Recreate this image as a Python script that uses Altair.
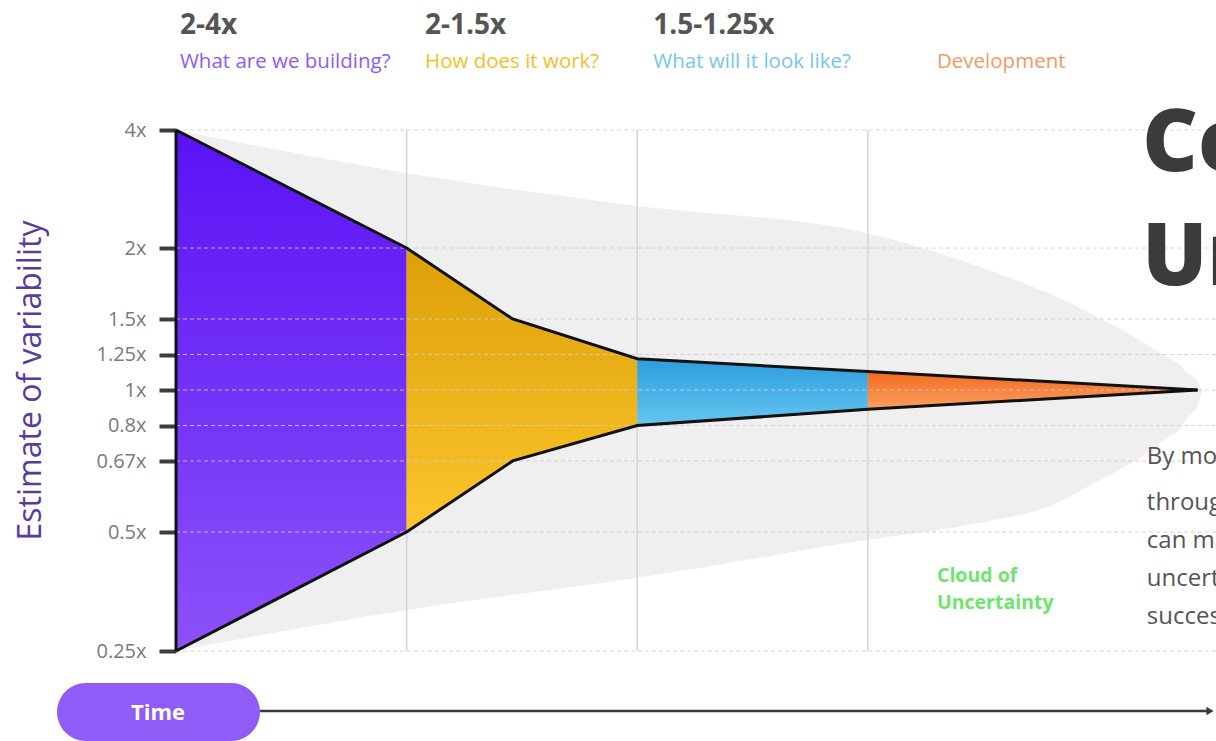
import altair as alt
import pandas as pd

# ---------------- data ----------------
tick_mult = [4, 2, 1.5, 1.25, 1, 0.8, 2 / 3, 0.5, 0.25]
tick_labels = ["4x", "2x", "1.5x", "1.25x", "1x", "0.8x", "0.67x", "0.5x", "0.25x"]

# cone of estimates (time in phase units, multiplier up / down)
cone_t = [0, 1, 1.46, 2, 3, 4.43]
cone_upper = [4, 2, 1.5, 1.22, 1.13, 1.0]
cone_lower = [0.25, 0.5, 0.667, 0.8, 0.88, 1.0]

phase_ranges = ["2-4x", "2-1.5x", "1.5-1.25x", ""]
phase_names = ["What are we building?", "How does it work?", "What will it look like?", "Development"]
phase_start = [0, 1, 2, 3]
phase_end = [1, 2, 3, 4.43]
phase_top = ["#5a12f6", "#dd9f08", "#2b9ddf", "#f26a1c"]
phase_bottom = ["#8c52f9", "#fcc62c", "#66c6f0", "#fb9f62"]
label_colors = ["#8b5cf6", "#f7bd25", "#74c7ee", "#f5995c"]
header_t = [0.017, 1.08, 2.07, 3.30]

# grey cloud of uncertainty
cloud_t = [0, 1, 2, 3, 3.5, 3.8, 4.0, 4.2, 4.3, 4.35, 4.38, 4.41, 4.43, 4.44, 4.45]
cloud_upper = [4.0, 3.27, 2.71, 2.25, 1.86, 1.67, 1.51, 1.33, 1.23, 1.18, 1.13, 1.10, 1.06, 1.03, 1.0]
cloud_lower = [0.25, 0.302, 0.361, 0.469, 0.518, 0.552, 0.61, 0.686, 0.747, 0.78, 0.826, 0.866, 0.90, 0.94, 1.0]

phase_lines = [1, 2, 3]

title_lines = ["Cone of", "Uncertainty"]
body_lines = ["By moving", "through each phase we", "can manage the", "uncertainty of", "success."]
cloud_label = ["Cloud of", "Uncertainty"]


# ---------------- helpers ----------------
def to_v(m):
    """symmetric multiplier position: 2x -> 1, 0.5x -> -1"""
    return m - 1 if m >= 1 else 1 - 1 / m


X_MAX = 4.51
xs = alt.Scale(domain=[0, X_MAX])
ys = alt.Scale(domain=[-3, -1, 1, 3], range=[651, 532, 248, 130])

tick_v = [round(to_v(m), 4) for m in tick_mult]
expr = ""
for v, lab in zip(tick_v, tick_labels):
    expr += f"abs(datum.value - ({v})) < 0.01 ? '{lab}' : "
expr += "''"

y_axis = alt.Axis(
    values=tick_v, labelExpr=expr, grid=False, domain=False,
    tickSize=17, tickWidth=4, tickColor="#3d3d3d",
    labelFontSize=20, labelColor="#7a7a7a", labelFont="Open Sans", labelPadding=13,
    title="Estimate of variability", titleFontSize=32, titleColor="#573c9e",
    titleFont="Open Sans", titleFontWeight="normal",
    titleX=-146, titleY=380, titleAngle=270, titleAlign="center", titleBaseline="middle",
)


def X(f):
    return alt.X(f, scale=xs, axis=None)


def Y(f):
    return alt.Y(f, scale=ys, axis=y_axis)


# ---------------- tables ----------------
cloud_df = pd.DataFrame({
    "t": cloud_t,
    "up": [to_v(m) for m in cloud_upper],
    "lo": [to_v(m) for m in cloud_lower],
})
cone_df = pd.DataFrame({
    "t": cone_t,
    "up": [to_v(m) for m in cone_upper],
    "lo": [to_v(m) for m in cone_lower],
})
grid_df = pd.DataFrame({"v": tick_v, "t0": [0] * len(tick_v), "t1": [X_MAX] * len(tick_v)})
vline_df = pd.DataFrame({"t": phase_lines, "up": [to_v(4)] * 3, "lo": [to_v(0.25)] * 3})
header_df = pd.DataFrame({"t": header_t, "rng": phase_ranges, "q": phase_names, "c": label_colors})

# ---------------- layers ----------------
cloud = alt.Chart(cloud_df).mark_area(color="#efefef", interpolate="monotone").encode(
    x=X("t:Q"), y=Y("up:Q"), y2="lo:Q"
)

vlines = alt.Chart(vline_df).mark_rule(color="#d4d4d4", strokeWidth=1.5).encode(
    x=X("t:Q"), y=Y("up:Q"), y2="lo:Q"
)

phases = []
for i in range(4):
    sub = cone_df[(cone_df.t >= phase_start[i]) & (cone_df.t <= phase_end[i])]
    grad = alt.Gradient(
        gradient="linear",
        stops=[alt.GradientStop(color=phase_top[i], offset=0),
               alt.GradientStop(color=phase_bottom[i], offset=1)],
        x1=0, x2=0, y1=0, y2=1,
    )
    phases.append(
        alt.Chart(sub).mark_area(color=grad).encode(x=X("t:Q"), y=Y("up:Q"), y2="lo:Q")
    )

grid = alt.Chart(grid_df).mark_rule(
    color="#cccccc", strokeDash=[4, 3], strokeWidth=1, opacity=0.85
).encode(y=Y("v:Q"), x=X("t0:Q"), x2="t1:Q")

upper_line = alt.Chart(cone_df).mark_line(color="#111111", strokeWidth=3).encode(
    x=X("t:Q"), y=Y("up:Q")
)
lower_line = alt.Chart(cone_df).mark_line(color="#111111", strokeWidth=3).encode(
    x=X("t:Q"), y=Y("lo:Q")
)
left_edge = alt.Chart(cone_df.head(1)).mark_rule(color="#111111", strokeWidth=3).encode(
    x=X("t:Q"), y=Y("up:Q"), y2="lo:Q"
)

hdr_rng = alt.Chart(header_df).mark_text(
    align="left", baseline="middle", fontSize=28, fontWeight="bold", color="#555555", font="Open Sans"
).encode(x=X("t:Q"), y=alt.value(26), text="rng:N")

hdr_q = alt.Chart(header_df).mark_text(
    align="left", baseline="middle", fontSize=20.5, font="Open Sans"
).encode(x=X("t:Q"), y=alt.value(62), text="q:N", color=alt.Color("c:N", scale=None))


def text_line(txt, t, py, **kw):
    return alt.Chart(pd.DataFrame({"txt": [txt], "t": [t]})).mark_text(
        align="left", baseline="middle", font="Open Sans", **kw
    ).encode(x=X("t:Q"), y=alt.value(py), text="txt:N")


texts = []
for txt, py in zip(cloud_label, [576, 603]):
    texts.append(text_line(txt, 3.30, py, fontSize=19.5, fontWeight="bold", color="#6fe46c"))
for txt, py in zip(title_lines, [145, 259]):
    texts.append(text_line(txt, 4.19, py, fontSize=86, fontWeight=800, color="#3b3b3b"))
for txt, py in zip(body_lines, [457, 503, 541, 579, 617]):
    texts.append(text_line(txt, 4.21, py, fontSize=24, color="#555555"))

one = pd.DataFrame({"a": [0]})
pill = alt.Chart(one).mark_rect(color="#8f5cf8", cornerRadius=29).encode(
    x=alt.value(-119), x2=alt.value(84), y=alt.value(683), y2=alt.value(741)
)
pill_txt = alt.Chart(pd.DataFrame({"txt": ["Time"]})).mark_text(
    align="center", baseline="middle", fontSize=22, fontWeight="bold", color="white", font="Open Sans"
).encode(x=alt.value(-18), y=alt.value(713), text="txt:N")
arrow = alt.Chart(one).mark_rule(color="#3a3a3a", strokeWidth=2.5).encode(
    x=alt.value(84), x2=alt.value(1034), y=alt.value(711)
)
arrow_head = alt.Chart(one).mark_point(
    shape="triangle-right", filled=True, color="#3a3a3a", size=70, opacity=1
).encode(x=alt.value(1034), y=alt.value(711))

chart = alt.layer(
    cloud, vlines, *phases, grid, upper_line, lower_line, left_edge,
    hdr_rng, hdr_q, *texts, pill, pill_txt, arrow, arrow_head
).properties(
    width=1040, height=741,
    padding={"left": 176, "right": 0, "top": 0, "bottom": 0},
    autosize=alt.AutoSizeParams(type="none"),
).configure(background="white", font="Open Sans").configure_view(stroke=None)

chart.save("out.html", embed_options={"renderer": "svg", "actions": False})
